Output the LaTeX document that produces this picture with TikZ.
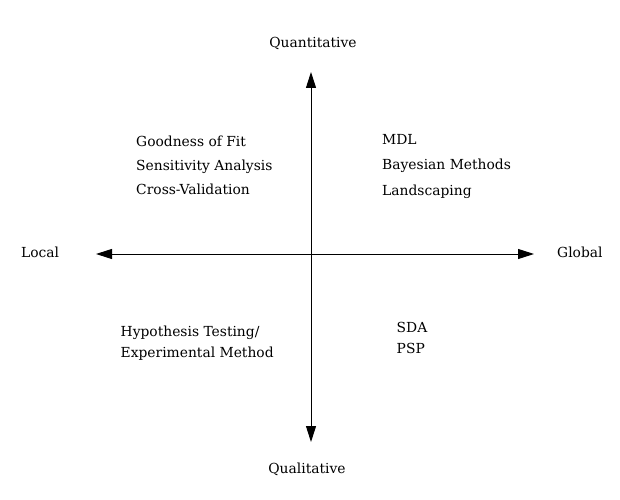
\documentclass[tikz,border=0pt]{standalone}
\usepackage{fontspec}
\setmainfont{DejaVu Serif}
\usetikzlibrary{arrows.meta}
\tikzset{
  lbl/.style={inner sep=0pt, font=\fontsize{13.9}{16}\selectfont},
  axis/.style={line width=1bp, {Triangle[length=16bp,width=10bp]}-{Triangle[length=16bp,width=10bp]}}
}
\begin{document}
\begin{tikzpicture}[x=1bp,y=-1bp]
\useasboundingbox (0,0) rectangle (620,500);
\coordinate (top) at (311,72);
\coordinate (bot) at (311,442);
\coordinate (lft) at (96,254);
\coordinate (rgt) at (534,254);
\draw[axis] (bot) -- (top);
\draw[axis] (lft) -- (rgt);
\node[lbl, anchor=base] (quant) at (313,48) {Quantitative};
\node[lbl, anchor=base] (qual) at (307,473) {Qualitative};
\node[lbl, anchor=base west] (local) at (21,257) {Local};
\node[lbl, anchor=base west] (global) at (557,257) {Global};
\node[lbl, anchor=base west] (g1) at (136,147) {Goodness of Fit};
\node[lbl, anchor=base west] (g2) at (136,171) {Sensitivity Analysis};
\node[lbl, anchor=base west] (g3) at (136,195) {Cross-Validation};
\node[lbl, anchor=base west] (m1) at (382,144.5) {MDL};
\node[lbl, anchor=base west] (m2) at (382,170) {Bayesian Methods};
\node[lbl, anchor=base west] (m3) at (382,195.5) {Landscaping};
\node[lbl, anchor=base west] (h1) at (120.5,336) {Hypothesis Testing/};
\node[lbl, anchor=base west] (h2) at (120.5,357) {Experimental Method};
\node[lbl, anchor=base west] (s1) at (396.5,332.5) {SDA};
\node[lbl, anchor=base west] (s2) at (396.5,353.5) {PSP};
\end{tikzpicture}
\end{document}
